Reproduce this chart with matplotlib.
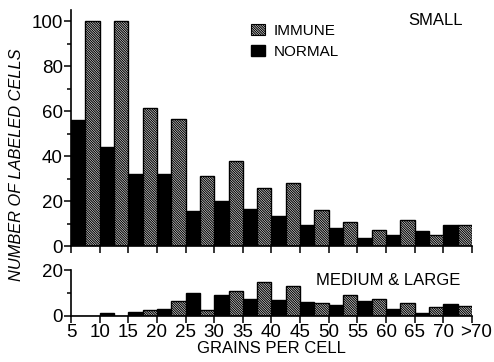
import matplotlib
matplotlib.use("Agg")
import matplotlib.pyplot as plt
import matplotlib.transforms as mtrans
from matplotlib.patches import Patch
from matplotlib.ticker import MultipleLocator
import numpy as np

plt.rcParams['font.family'] = ['Liberation Sans', 'DejaVu Sans']
plt.rcParams['hatch.linewidth'] = 0.8

# bins (lower edge of each 5-grain class)
bins = [5, 10, 15, 20, 25, 30, 35, 40, 45, 50, 55, 60, 65, 70]
tick_labels = ['5', '10', '15', '20', '25', '30', '35', '40', '45', '50',
               '55', '60', '65', '70', '>70']

# small cells
normal_small = [56, 44, 32, 32, 15.5, 20, 16.5, 13.5, 9.5, 8, 3.5, 5, 6.5, 9.5]
immune_small = [100, 100, 61.5, 56.5, 31, 38, 26, 28, 16, 10.5, 7, 11.5, 5, 9.5]

# medium & large cells
normal_ml = [0, 1.2, 1.7, 2.9, 10, 9, 7.4, 7, 5.9, 4.8, 6.7, 3, 1.4, 5]
immune_ml = [0, 0, 2.6, 6.5, 2.6, 11, 15, 13, 5.8, 9, 7.4, 5.8, 4, 4.3]

HATCH = '\\' * 14

fig = plt.figure(figsize=(4.94, 3.62), dpi=100)
ax1 = fig.add_axes([0.1437, 0.3204, 0.8117, 0.652])
ax2 = fig.add_axes([0.1437, 0.1271, 0.8117, 0.127])

x = np.array(bins)
hw = 2.5  # half of a bin

for ax, nv, iv in [(ax1, normal_small, immune_small), (ax2, normal_ml, immune_ml)]:
    ax.bar(x, nv, width=hw, align='edge', color='black', edgecolor='black', linewidth=1)
    ax.bar(x + hw, iv, width=hw, align='edge', color='white', edgecolor='black',
           hatch=HATCH, linewidth=1)
    ax.set_xlim(5, 75)
    ax.spines['top'].set_visible(False)
    ax.spines['right'].set_visible(False)
    ax.spines['left'].set_linewidth(1.2)
    ax.spines['bottom'].set_linewidth(1.2)
    ax.set_xticks(np.arange(5, 80, 5))
    ax.tick_params(direction='out', length=5, width=1.1, labelsize=13.5, pad=1)
    ax.tick_params(which='minor', direction='out', length=3, width=1.1)

ax1.set_ylim(0, 105)
ax1.set_yticks([0, 20, 40, 60, 80, 100])
ax1.yaxis.set_minor_locator(MultipleLocator(10))
ax1.set_xticklabels([])

ax2.set_ylim(0, 20)
ax2.set_yticks([0, 20])
ax2.yaxis.set_minor_locator(MultipleLocator(10))
ax2.set_xticklabels(tick_labels)
# nudge the ">70" label a little to the right
last = ax2.get_xticklabels()[-1]
last.set_transform(last.get_transform() + mtrans.ScaledTranslation(3 / 72, 0, fig.dpi_scale_trans))

ax2.set_xlabel('GRAINS PER CELL', fontsize=12, labelpad=0)

fig.text(0.034, 0.544, 'NUMBER OF LABELED CELLS', rotation=90, fontsize=11.8,
         style='italic', ha='center', va='center')

handles = [Patch(facecolor='white', edgecolor='black', hatch=HATCH, linewidth=0.8),
           Patch(facecolor='black', edgecolor='black')]
ax1.legend(handles, ['IMMUNE', 'NORMAL'], loc='upper left', bbox_to_anchor=(0.43, 0.975),
           frameon=False, fontsize=11, handlelength=0.9, handleheight=0.8,
           handletextpad=0.6, labelspacing=0.45, borderpad=0)

ax1.text(0.84, 0.955, 'SMALL', transform=ax1.transAxes, fontsize=12, va='center')
ax2.text(0.61, 0.78, 'MEDIUM & LARGE', transform=ax2.transAxes, fontsize=12, va='center')

fig.savefig('out.png', dpi=100)
